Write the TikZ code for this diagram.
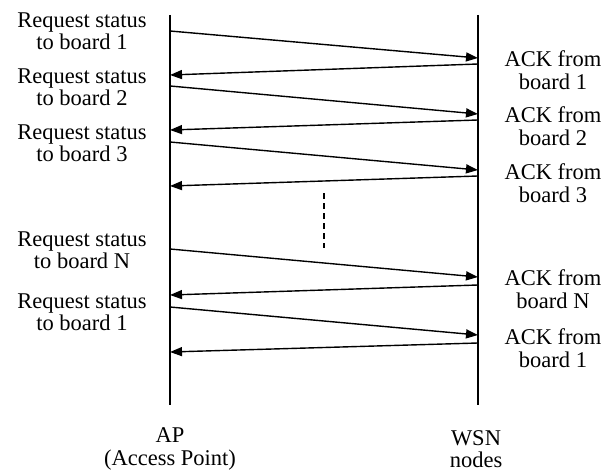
\documentclass[tikz,border=0pt]{standalone}
\usepackage{fontspec}
\setmainfont{Liberation Serif}
\usetikzlibrary{arrows.meta}
\tikzset{
  lifeline/.style={line width=1.8pt},
  msg/.style={line width=1.4pt,-{Triangle[length=12pt,width=9pt]}},
  lbl/.style={align=center,inner sep=0pt,font=\fontsize{22.5}{22.5}\selectfont},
  dots/.style={line width=1.8pt,dash pattern=on 6pt off 4pt}
}
\begin{document}
\begin{tikzpicture}[x=1pt,y=-1pt]
\useasboundingbox (0,0) rectangle (612,473);
% lifelines
\coordinate (apT) at (170,15); \coordinate (apB) at (170,405);
\coordinate (wsT) at (478,15); \coordinate (wsB) at (478,405);
\draw[lifeline] (apT) -- (apB);
\draw[lifeline] (wsT) -- (wsB);
% message end points
\coordinate (a1) at (170,31);  \coordinate (b1) at (478,58);
\coordinate (b2) at (478,64);  \coordinate (a2) at (170,75);
\coordinate (a3) at (170,86);  \coordinate (b3) at (478,114);
\coordinate (b4) at (478,120); \coordinate (a4) at (170,130);
\coordinate (a5) at (170,142); \coordinate (b5) at (478,170);
\coordinate (b6) at (478,176); \coordinate (a6) at (170,186);
\coordinate (a7) at (170,249); \coordinate (b7) at (478,277);
\coordinate (b8) at (478,285); \coordinate (a8) at (170,295);
\coordinate (a9) at (170,307); \coordinate (b9) at (478,335);
\coordinate (b10) at (478,343); \coordinate (a10) at (170,352);
\draw[msg] (a1) -- (b1);
\draw[msg] (b2) -- (a2);
\draw[msg] (a3) -- (b3);
\draw[msg] (b4) -- (a4);
\draw[msg] (a5) -- (b5);
\draw[msg] (b6) -- (a6);
\draw[msg] (a7) -- (b7);
\draw[msg] (b8) -- (a8);
\draw[msg] (a9) -- (b9);
\draw[msg] (b10) -- (a10);
% ellipsis
\coordinate (d1) at (324,193); \coordinate (d2) at (324,248);
\draw[dots] (d1) -- (d2);
% left labels
\node[lbl] (r1) at (82,31) {Request status\\to board 1};
\node[lbl] (r2) at (82,87) {Request status\\to board 2};
\node[lbl] (r3) at (82,143) {Request status\\to board 3};
\node[lbl] (rN) at (82,250) {Request status\\to board N};
\node[lbl] (r1b) at (82,312) {Request status\\to board 1};
% right labels
\node[lbl] (k1) at (553,70) {ACK from\\board 1};
\node[lbl] (k2) at (553,126) {ACK from\\board 2};
\node[lbl] (k3) at (553,183) {ACK from\\board 3};
\node[lbl] (kN) at (553,289) {ACK from\\board N};
\node[lbl] (k1b) at (553,348) {ACK from\\board 1};
% bottom labels
\node[lbl] (ap) at (170,449) {AP\\(Access Point)};
\node[lbl] (ws) at (476,449) {WSN\\nodes};
\end{tikzpicture}
\end{document}
